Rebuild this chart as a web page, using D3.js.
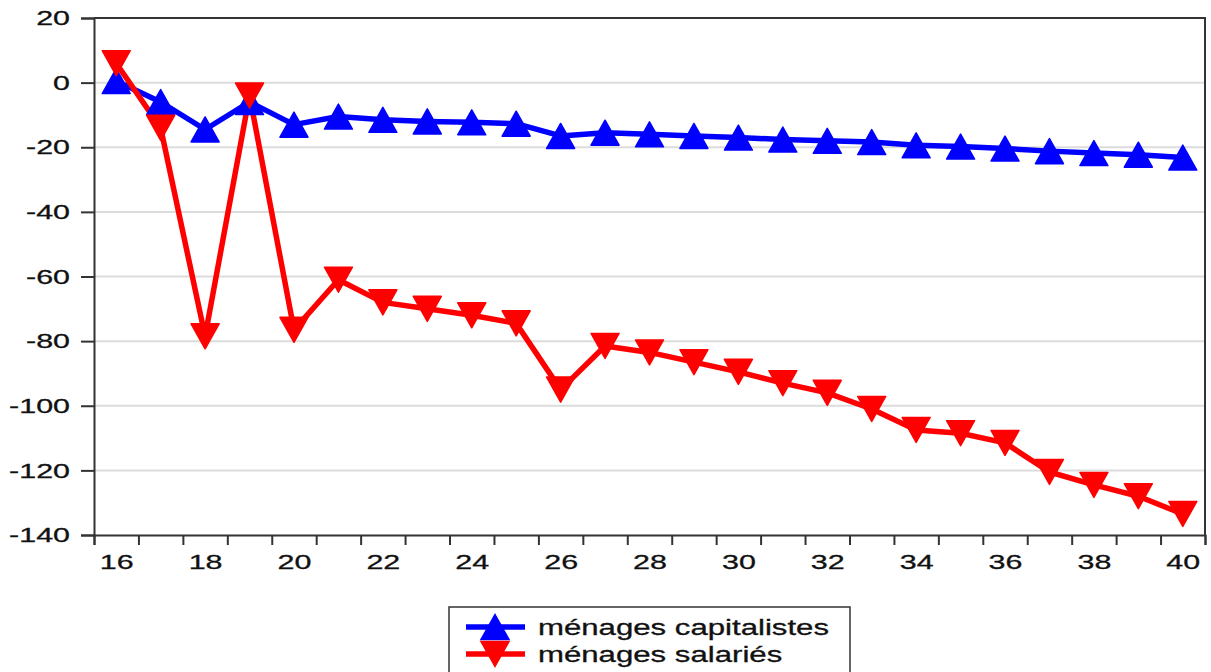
<!DOCTYPE html>
<html>
<head>
<meta charset="utf-8">
<script src="https://cdn.jsdelivr.net/npm/d3@7/dist/d3.min.js"></script>
<style>
    body { margin: 0; background: #fff; }
    #space { width: 1211px; height: 672px; overflow: hidden; }
</style>
</head>
<body>
<div id="space"></div>
<script>

var periods = [16, 17, 18, 19, 20, 21, 22, 23, 24, 25, 26, 27, 28, 29, 30, 31, 32, 33, 34, 35, 36, 37, 38, 39, 40];
var capitalistes = [0.5, -6, -14.5, -6, -13, -10.5, -11.5, -12, -12.3, -12.7, -16.5, -15.5, -16, -16.5, -17, -17.6, -18, -18.4, -19.4, -19.8, -20.4, -21.2, -21.8, -22.3, -23.2];
var salaries = [6, -14, -78.5, -4, -76.5, -61, -68, -70, -72, -74.5, -95, -81.5, -83.5, -86.5, -89.5, -93, -96, -101, -107.5, -108.5, -111.5, -120.5, -124.5, -128, -133.5];
var yTicks = [20, 0, -20, -40, -60, -80, -100, -120, -140];
var xLabels = [16, 18, 20, 22, 24, 26, 28, 30, 32, 34, 36, 38, 40];
var seriesNames = ["ménages capitalistes", "ménages salariés"];

var svg, x, y;
var left = 94, right = 1205, top_y = 18, bottom = 535;
var stretch = 1.45; // the reference text is squeezed wide
var font = "'Liberation Sans', Arial, sans-serif";

init();

function init() {
    svg = d3.select("#space").append("svg")
        .attr("width", 1211)
        .attr("height", 672);

    x = d3.scaleLinear().domain([15.5, 40.5]).range([left, right]);
    y = d3.scaleLinear().domain([-140, 20]).range([bottom, top_y]);

    svg.append("g").attr("id", "grid");
    svg.append("g").attr("id", "axis");
    svg.append("g").attr("id", "path");
    svg.append("g").attr("id", "dot");
    svg.append("g").attr("id", "legend");

    drawGrid();
    drawAxes();
    drawSeries(capitalistes, "#0000ff", "up");
    drawSeries(salaries, "#ff0000", "down");
    drawLegend();
}

function trianglePath(dir) {
    // wide triangle, centred on the point
    var w = 14, h = 12.5;
    if (dir == "up") return "M0," + (-h) + "L" + w + "," + h + "L" + (-w) + "," + h + "Z";
    return "M0," + h + "L" + w + "," + (-h) + "L" + (-w) + "," + (-h) + "Z";
}

function plainNumber(d) {
    //keep a hyphen for the minus, like the original
    return String(d);
}

function drawGrid() {
    svg.select("#grid").selectAll("line")
        .data(yTicks.filter(function (d) { return d > -140 && d < 20; }))
        .enter().append("line")
        .attr("x1", left).attr("x2", right)
        .attr("y1", function (d) { return y(d); })
        .attr("y2", function (d) { return y(d); })
        .attr("stroke", "#dcdcdc")
        .attr("stroke-width", 2);
}

function drawAxes() {
    var g = svg.select("#axis");

    //Frame (top and right)
    g.append("path")
        .attr("d", "M" + left + "," + top_y + "H" + right + "V" + bottom)
        .attr("fill", "none")
        .attr("stroke", "#333")
        .attr("stroke-width", 2);

    //Y axis
    var yAxis = g.append("g")
        .attr("transform", "translate(" + left + ",0)")
        .call(d3.axisLeft(y).tickValues(yTicks).tickSize(13).tickFormat(plainNumber));
    yAxis.selectAll("text")
        .attr("x", -24 / stretch)
        .attr("transform", "scale(" + stretch + ",1)");

    //X axis: small ticks between periods
    var xTicks = periods.map(function (d) { return d - 0.5; }).concat([40.5]);
    g.append("g")
        .attr("transform", "translate(0," + bottom + ")")
        .call(d3.axisBottom(x).tickValues(xTicks).tickSize(10).tickFormat(""));

    //X axis labels
    var xAxis = g.append("g")
        .attr("transform", "translate(0," + bottom + ")")
        .call(d3.axisBottom(x).tickValues(xLabels).tickSize(0).tickPadding(19).tickFormat(plainNumber));
    xAxis.select(".domain").remove();
    xAxis.selectAll("text").attr("transform", "scale(" + stretch + ",1)");

    g.selectAll(".domain").attr("stroke", "#333").attr("stroke-width", 2);
    g.selectAll(".tick line").attr("stroke", "#333").attr("stroke-width", 2);
    g.selectAll("text")
        .attr("font-family", font)
        .attr("font-size", 21)
        .attr("fill", "#111")
        .attr("stroke", "#111")
        .attr("stroke-width", 0.3);
}

function drawSeries(values, color, dir) {
    var line = d3.line()
        .x(function (d, i) { return x(periods[i]); })
        .y(function (d) { return y(d); });

    svg.select("#path").append("path")
        .datum(values)
        .attr("d", line)
        .attr("fill", "none")
        .attr("stroke", color)
        .attr("stroke-width", 5.5)
        .attr("stroke-linejoin", "round");

    svg.select("#dot").append("g").selectAll("path")
        .data(values)
        .enter().append("path")
        .attr("transform", function (d, i) { return "translate(" + x(periods[i]) + "," + y(d) + ")"; })
        .attr("d", trianglePath(dir))
        .attr("fill", color)
        .attr("stroke", color)
        .attr("stroke-width", 1.5)
        .attr("stroke-linejoin", "round");
}

function drawLegend() {
    var g = svg.select("#legend");
    var colors = ["#0000ff", "#ff0000"];
    var dirs = ["up", "down"];

    g.append("rect")
        .attr("x", 449).attr("y", 607)
        .attr("width", 401).attr("height", 90)
        .attr("fill", "#fff")
        .attr("stroke", "#333")
        .attr("stroke-width", 1.5);

    for (var i = 0; i < seriesNames.length; i++) {
        var cy = 627 + 27 * i;
        g.append("line")
            .attr("x1", 466).attr("x2", 525)
            .attr("y1", cy).attr("y2", cy)
            .attr("stroke", colors[i])
            .attr("stroke-width", 5.5);
        g.append("path")
            .attr("transform", "translate(495," + cy + ")")
            .attr("d", trianglePath(dirs[i]))
            .attr("fill", colors[i])
            .attr("stroke", colors[i])
            .attr("stroke-width", 1.5);
        g.append("text")
            .attr("transform", "translate(538," + (cy + 8) + ") scale(" + stretch + ",1)")
            .attr("font-family", font)
            .attr("font-size", 21.5)
            .attr("fill", "#111")
            .attr("stroke", "#111")
            .attr("stroke-width", 0.3)
            .text(seriesNames[i]);
    }
}
</script>
</body>
</html>
